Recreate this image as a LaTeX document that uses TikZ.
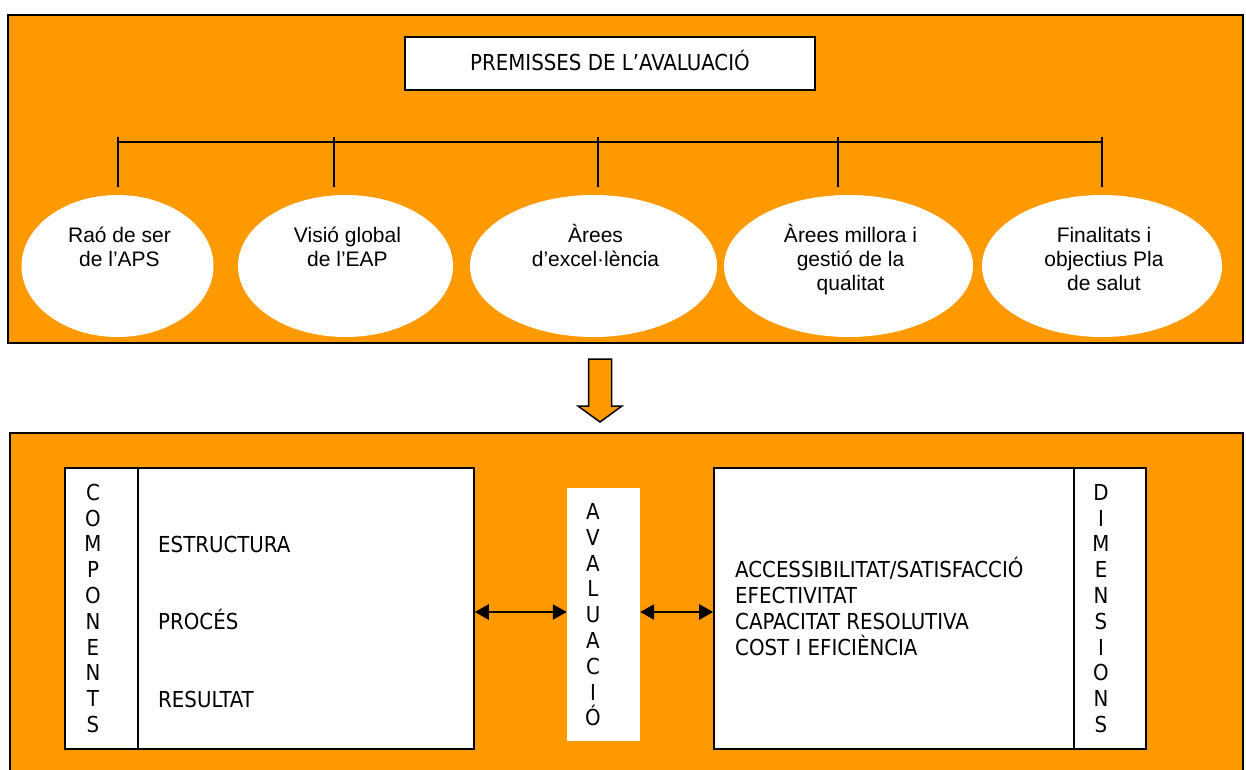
\documentclass[tikz,border=0pt]{standalone}
\usepackage{fontspec}
\setmainfont{Liberation Sans}
\newfontfamily\tah{DejaVu Sans Condensed}
\usetikzlibrary{shapes.geometric,arrows.meta,calc}
\definecolor{orng}{RGB}{255,153,0}
\begin{document}
\begin{tikzpicture}[x=1pt,y=-1pt,
  panel/.style={rectangle,draw=black,line width=1.5pt,fill=orng,inner sep=0pt},
  wbox/.style={rectangle,draw=black,line width=1.6pt,fill=white,inner sep=0pt},
  plainbox/.style={rectangle,fill=white,inner sep=0pt},
  oval/.style={ellipse,fill=white,inner sep=0pt},
  etext/.style={font=\fontsize{21}{24.2}\selectfont,align=center,inner sep=0pt,anchor=north},
  ttext/.style={font=\tah\fontsize{22}{26}\selectfont,inner sep=0pt},
  vtext/.style={font=\tah\fontsize{22}{25.8}\selectfont,align=center,inner sep=0pt,anchor=north},
  link/.style={line width=1.5pt},
  dbl/.style={line width=2.6pt,{Triangle[length=14pt,width=15pt]}-{Triangle[length=14pt,width=15pt]}},
]
\useasboundingbox (0,0) rectangle (1246,769);
\fill[white] (0,0) rectangle (1246,769);

% ---------- top panel ----------
\node[panel, minimum width=1235pt, minimum height=328pt] (toppanel) at (625.5,179) {};
\node[wbox, minimum width=410pt, minimum height=53pt, text height=15pt, text depth=2pt,
      font=\tah\fontsize{22}{26}\selectfont] (prem) at (610,63.5) {PREMISSES DE L’AVALUACIÓ};

% bracket
\coordinate (hl) at (0,142);
\foreach \i/\x in {1/118,2/334,3/598,4/838,5/1102}{
  \coordinate (ta\i) at (\x,137);
  \coordinate (tb\i) at (\x,187);
  \draw[link] (ta\i) -- (tb\i);
}
\draw[link] (ta1 |- hl) -- (ta5 |- hl);

% ellipses
\node[oval, minimum width=192pt, minimum height=142pt] (e1) at (117.5,266) {};
\node[oval, minimum width=215pt, minimum height=142pt] (e2) at (345.5,266) {};
\node[oval, minimum width=247pt, minimum height=142pt] (e3) at (593.5,266) {};
\node[oval, minimum width=249pt, minimum height=142pt] (e4) at (848.5,266) {};
\node[oval, minimum width=240pt, minimum height=142pt] (e5) at (1102,266) {};

\node[etext] (t1) at ([xshift=2pt,yshift=-30.4pt]e1.north) {\strut Raó de ser\\\strut de l’APS};
\node[etext] (t2) at ([xshift=2pt,yshift=-30.4pt]e2.north) {\strut Visió global\\\strut de l’EAP};
\node[etext] (t3) at ([xshift=2pt,yshift=-30.4pt]e3.north) {\strut\smash{Àrees}\\\strut d’excel·lència};
\node[etext] (t4) at ([xshift=2pt,yshift=-30.4pt]e4.north) {\strut\smash{Àrees millora i}\\\strut gestió de la\\\strut qualitat};
\node[etext] (t5) at ([xshift=2pt,yshift=-30.4pt]e5.north) {\strut Finalitats i\\\strut objectius Pla\\\strut de salut};

% ---------- down arrow ----------
\draw[line width=1.5pt, fill=orng, line join=miter]
  (588.5,359) -- (611.5,359) -- (611.5,406) -- (622,406) -- (600,422) -- (578,406) -- (588.5,406) -- cycle;

% ---------- bottom panel ----------
\node[panel, minimum width=1233pt, minimum height=367pt] (botpanel) at (626.5,616.5) {};

% left box
\node[wbox, minimum width=409pt, minimum height=281pt] (lbox) at (269.5,608.5) {};
\coordinate (ldiv) at (138,0);
\draw[link] (lbox.north -| ldiv) -- (lbox.south -| ldiv);
\node[vtext] (comp) at (93,482) {\strut C\\\strut O\\\strut M\\\strut P\\\strut O\\\strut N\\\strut E\\\strut N\\\strut T\\\strut S};
\node[ttext, anchor=base west] (estr) at (158,552) {ESTRUCTURA};
\node[ttext, anchor=base west] (proc) at (158,629) {PROCÉS};
\node[ttext, anchor=base west] (resu) at (158,707) {RESULTAT};

% avaluacio box
\node[plainbox, minimum width=73pt, minimum height=253pt] (aval) at (603.5,614.5) {};
\node[vtext] (avalt) at (593,501.2) {\strut A\\\strut V\\\strut A\\\strut L\\\strut U\\\strut A\\\strut C\\\strut I\\\strut\smash{Ó}};

% right box
\node[wbox, minimum width=432pt, minimum height=281pt] (rbox) at (930,608.5) {};
\coordinate (rdiv) at (1074,0);
\draw[link] (rbox.north -| rdiv) -- (rbox.south -| rdiv);
\node[vtext] (dims) at (1101,482) {\strut D\\\strut I\\\strut M\\\strut E\\\strut N\\\strut S\\\strut I\\\strut O\\\strut N\\\strut S};
\node[ttext, align=left, anchor=north west] (dlist) at (735,558.8)
  {\strut\smash{ACCESSIBILITAT/SATISFACCIÓ}\\\strut EFECTIVITAT\\\strut CAPACITAT RESOLUTIVA\\\strut\smash{COST I EFICIÈNCIA}};

% double arrows
\coordinate (ay) at (0,612);
\draw[dbl] (lbox.east |- ay) -- (aval.west |- ay);
\draw[dbl] (aval.east |- ay) -- (rbox.west |- ay);
\end{tikzpicture}
\end{document}
